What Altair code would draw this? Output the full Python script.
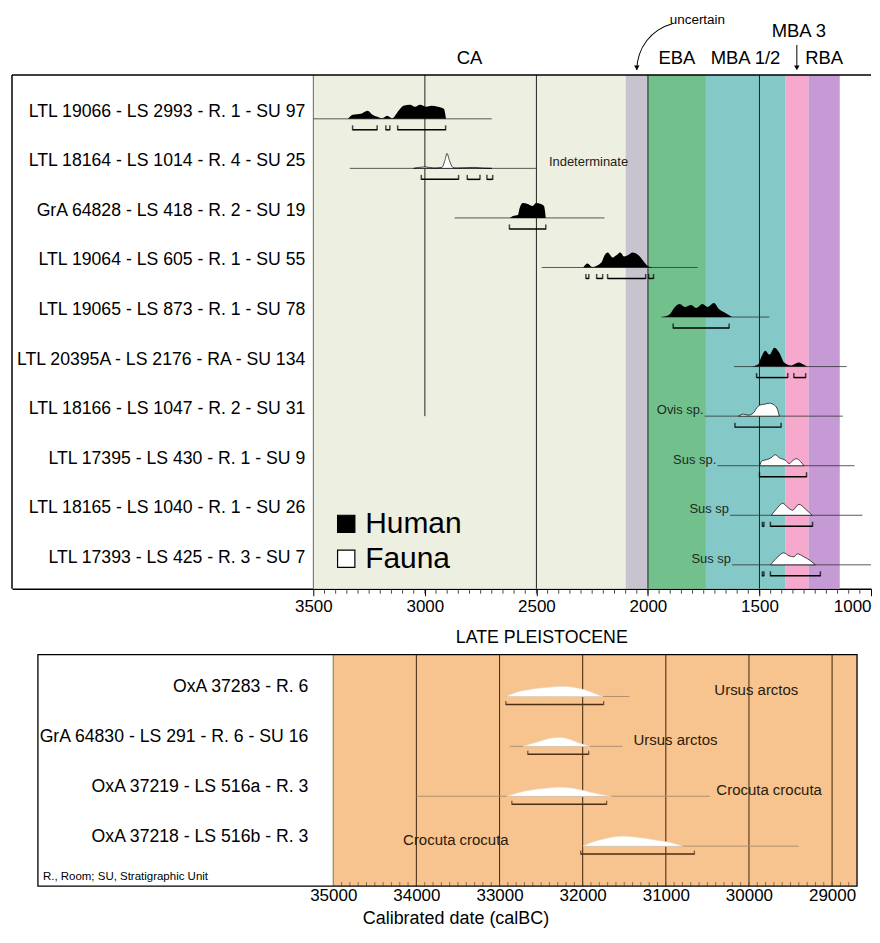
import altair as alt
import pandas as pd

FONT = "Liberation Sans"

# ======================= DATA: top panel (Holocene) =======================
top_labels = [
    "LTL 19066 - LS 2993 - R. 1 - SU 97",
    "LTL 18164 - LS 1014 - R. 4 - SU 25",
    "GrA 64828 - LS 418 - R. 2 - SU 19",
    "LTL 19064 - LS 605 - R. 1 - SU 55",
    "LTL 19065 - LS 873 - R. 1 - SU 78",
    "LTL 20395A - LS 2176 - RA - SU 134",
    "LTL 18166 - LS 1047 - R. 2 - SU 31",
    "LTL 17395 - LS 430 - R. 1 - SU 9",
    "LTL 18165 - LS 1040 - R. 1 - SU 26",
    "LTL 17393 - LS 425 - R. 3 - SU 7",
]
top_kind = ["Human", "Indeterminate", "Human", "Human", "Human", "Human",
            "Fauna", "Fauna", "Fauna", "Fauna"]
top_species = ["", "Indeterminate", "", "", "", "", "Ovis sp.", "Sus sp.", "Sus sp", "Sus sp"]
top_species_year = [None, 2444, None, None, None, None, 1746, 1689, 1632, 1623]

top_line_start = [3500, 3337, 2867, 2476, 1940, 1614, 1746, 1689, 1632, 1623]
top_line_end = [2700, 2502, 2195, 1777, 1456, 1109, 1126, 1074, 1038, 1000]

top_dens_year = [
    [3345, 3323, 3286, 3257, 3235, 3213, 3191, 3169, 3147, 3118, 3096, 3066, 3044, 3022, 2993, 2971, 2942, 2915, 2905],
    [3050, 3000, 2960, 2924, 2910, 2901, 2890, 2875, 2860, 2780, 2740, 2700],
    [2620, 2605, 2583, 2575, 2561, 2539, 2517, 2502, 2480, 2466, 2458],
    [2290, 2271, 2250, 2209, 2195, 2180, 2158, 2143, 2124, 2107, 2085, 2070, 2041, 2019, 1997, 1975],
    [1931, 1901, 1879, 1857, 1835, 1806, 1784, 1755, 1733, 1704, 1682, 1653, 1623],
    [1535, 1506, 1491, 1474, 1455, 1433, 1411, 1389, 1359, 1337, 1323, 1303, 1286],
    [1594, 1572, 1550, 1528, 1513, 1499, 1477, 1455, 1433, 1418, 1411],
    [1499, 1488, 1469, 1447, 1430, 1411, 1381, 1367, 1352, 1334, 1315, 1301],
    [1447, 1425, 1396, 1374, 1352, 1323, 1293, 1264],
    [1450, 1418, 1391, 1367, 1345, 1330, 1301, 1271, 1250],
]
top_dens_prob = [
    [0, 4, 5, 8, 4, 2, 0.5, 3, 0.5, 8, 13, 14, 12, 14, 12, 13, 12, 10, 0],
    [0, 1.5, 0.3, 1, 8, 15, 8, 1, 0.3, 1, 0.3, 0],
    [0, 2, 3, 10, 15, 14, 12, 15, 14, 12, 0],
    [0, 4, 0.5, 5, 12, 15, 10, 12, 15, 11, 13, 15, 12, 6, 1, 0],
    [0, 3, 10, 13, 10, 12, 9, 13, 10, 14, 8, 4, 0],
    [0, 2, 10, 16, 12, 19, 14, 4, 1, 3, 4, 2, 0],
    [0, 2, 1, 3, 8, 11, 12, 13, 11, 6, 0],
    [0, 5, 6, 8, 11, 8, 5, 2, 5, 7, 4, 0],
    [0, 6, 12, 8, 5, 11, 6, 0],
    [0, 8, 12, 9, 8, 11, 8, 4, 0],
]
top_range_from = [[3324, 3175, 3122], [3016, 2810, 2722], [2621], [2278, 2230, 2181, 1997],
                  [1887], [1513, 1346], [1610], [1500], [1487, 1451], [1487, 1451]]
top_range_to = [[3214, 3157, 2907], [2849, 2753, 2696], [2458], [2265, 2203, 2010, 1975],
                [1636], [1373, 1293], [1403], [1289], [1480, 1262], [1480, 1227]]

period_names = ["CA", "uncertain", "EBA", "MBA 1/2", "MBA 3", "RBA"]
period_start = [3500, 2100, 2000, 1740, 1385, 1280]
period_end = [2100, 2000, 1740, 1385, 1280, 1140]
period_colors = ["#EDEFE0", "#C9C3CF", "#72C18D", "#84C8C8", "#F6A8CD", "#C59AD5"]

top_grid_years = [3500, 3000, 2500, 2000, 1500]
top_grid_colors = ["#666666", "#222222", "#222222", "#222222", "#222222"]
top_grid_stop_row = [None, 6, None, None, None]   # 3000 line stops at the 7th row

top_ticks = [3500, 3000, 2500, 2000, 1500, 1000]
top_minor_ticks = list(range(3450, 1000, -50))

legend_labels = ["Human", "Fauna"]
legend_fill = ["black", "white"]

# ======================= DATA: bottom panel (Late Pleistocene) =======================
bot_labels = ["OxA 37283 - R. 6", "GrA 64830 - LS 291 - R. 6 - SU 16",
              "OxA 37219 - LS 516a - R. 3", "OxA 37218 - LS 516b - R. 3"]
bot_species = ["Ursus arctos", "Ursus arctos", "Crocuta crocuta", "Crocuta crocuta"]
bot_species_year = [30416, 31388, 30392, 34160]
bot_line_start = [32924, 32876, 34000, 32000]
bot_line_end = [31436, 31520, 30470, 29400]
bot_dens_year = [
    [32916, 32836, 32636, 32436, 32236, 32036, 31916, 31796, 31756],
    [32716, 32636, 32516, 32396, 32276, 32156, 32036, 31956, 31916],
    [32916, 32796, 32636, 32436, 32276, 32116, 31956, 31796, 31656],
    [31996, 31916, 31756, 31536, 31356, 31116, 30916, 30796],
]
bot_dens_prob = [
    [0, 3, 7, 9, 10, 8, 5, 1, 0],
    [0, 2, 5, 8, 9, 7, 3, 1, 0],
    [0, 3, 6, 8, 9, 8, 5, 2, 0],
    [0, 3, 7, 10, 9, 6, 3, 0],
]
bot_range_from = [32924, 32660, 32852, 32024]
bot_range_to = [31748, 31928, 31712, 30656]
bot_grid_years = [35000, 34000, 33000, 32000, 31000, 30000, 29000]
bot_grid_colors = ["#6f8a5a", "#4e3218", "#4e3218", "#4e3218", "#4e3218", "#4e3218", "#4e3218"]
bot_ticks = [35000, 34000, 33000, 32000, 31000, 30000, 29000]
bot_minor_ticks = list(range(34900, 28700, -100))
bot_period = ["LATE PLEISTOCENE"]
bot_period_start = [35000]
bot_period_end = [28700]

# ======================= LAYOUT / STYLE =======================
TOP_W, TOP_H = 861, 515
BOT_W, BOT_H = 847, 232
TOP_ROW, TOP_OFF = 49.67, 0.886
BOT_ROW, BOT_OFF = 50.0, 0.84
TOP_DOMAIN = [4851, 1000]
BOT_DOMAIN = [38864, 28700]
LABEL_FS = 17.7

xs_top = alt.Scale(domain=TOP_DOMAIN, nice=False, zero=False)
ys_top = alt.Scale(domain=[0, TOP_H / TOP_ROW], reverse=True, nice=False, zero=False)
xs_bot = alt.Scale(domain=BOT_DOMAIN, nice=False, zero=False)
ys_bot = alt.Scale(domain=[0, BOT_H / BOT_ROW], reverse=True, nice=False, zero=False)

ax_top = alt.Axis(values=top_ticks, format="d", labelFontSize=17, labelColor="black",
                  labelFont=FONT, tickSize=7, tickColor="black", tickWidth=1,
                  domain=True, domainColor="black", domainWidth=1.5, grid=False,
                  labelPadding=3, title=None,
                  labelAlign={"condition": {"test": "datum.value == 1000", "value": "right"},
                              "value": "center"})
ax_bot = alt.Axis(values=bot_ticks, format="d", labelFontSize=17, labelColor="black",
                  labelFont=FONT, ticks=False, tickSize=0, domain=False, grid=False,
                  labelPadding=1, title=None)


def XT(f):
    return alt.X(f, type="quantitative", scale=xs_top, axis=ax_top)


def YT(f):
    return alt.Y(f, type="quantitative", scale=ys_top, axis=None)


def XB(f):
    return alt.X(f, type="quantitative", scale=xs_bot, axis=ax_bot)


def YB(f):
    return alt.Y(f, type="quantitative", scale=ys_bot, axis=None)


# ----------------------- top tables -----------------------
periods = pd.DataFrame({"name": period_names, "start": period_start, "end": period_end,
                        "color": period_colors})
periods["mid"] = (periods["start"] + periods["end"]) / 2

rows_t = pd.DataFrame({"row": range(len(top_labels)), "label": top_labels, "kind": top_kind,
                       "start": top_line_start, "end": top_line_end,
                       "species": top_species, "sp_year": top_species_year})
rows_t["base"] = TOP_OFF + rows_t["row"]
rows_t["lab_y"] = rows_t["base"] - 7 / TOP_ROW
rows_t["sp_y"] = rows_t["base"] - 6 / TOP_ROW

dens_t = pd.DataFrame([
    {"row": r, "kind": top_kind[r], "year": y,
     "base": TOP_OFF + r, "top": TOP_OFF + r - p / TOP_ROW}
    for r in range(len(top_labels)) for y, p in zip(top_dens_year[r], top_dens_prob[r])
])
brk_t = pd.DataFrame([
    {"row": r, "a": a, "b": b, "y": TOP_OFF + r + 11 / TOP_ROW}
    for r in range(len(top_labels)) for a, b in zip(top_range_from[r], top_range_to[r])
])
caps_t = pd.concat([brk_t[["a", "y"]].rename(columns={"a": "x"}),
                    brk_t[["b", "y"]].rename(columns={"b": "x"})])

grid_t = pd.DataFrame({"year": top_grid_years, "col": top_grid_colors,
                       "y0": 0.0,
                       "y1": [TOP_H / TOP_ROW if s is None else TOP_OFF + s for s in top_grid_stop_row]})
minor_t = pd.DataFrame({"year": top_minor_ticks})
legend_t = pd.DataFrame({"label": legend_labels, "fill": legend_fill,
                         "ly": [450 / TOP_ROW, 485 / TOP_ROW]})

bg = alt.Chart(periods).mark_rect().encode(
    x=XT("start:Q"), x2="end:Q", y=alt.value(0), y2=alt.value(TOP_H),
    fill=alt.Fill("color:N", scale=None))
grid = alt.Chart(grid_t).mark_rule(strokeWidth=1).encode(
    x=XT("year:Q"), y=YT("y0:Q"), y2="y1:Q", color=alt.Color("col:N", scale=None))
baselines = alt.Chart(rows_t).mark_rule(color="#333333", strokeWidth=0.8).encode(
    x=XT("start:Q"), x2="end:Q", y=YT("base:Q"))
human = alt.Chart(dens_t).transform_filter("datum.kind == 'Human'").mark_area(
    color="black", interpolate="monotone").encode(
    x=XT("year:Q"), y=YT("base:Q"), y2="top:Q", detail="row:N")
fauna = alt.Chart(dens_t).transform_filter("datum.kind != 'Human'").mark_area(
    fill="white", stroke="black", strokeWidth=0.7, interpolate="monotone").encode(
    x=XT("year:Q"), y=YT("base:Q"), y2="top:Q", detail="row:N")
brk = alt.Chart(brk_t).mark_rule(color="black", strokeWidth=1.5).encode(
    x=XT("a:Q"), x2="b:Q", y=YT("y:Q"))
caps = alt.Chart(caps_t).mark_tick(orient="vertical", size=5, thickness=1.5,
                                   color="black", yOffset=-2).encode(
    x=XT("x:Q"), y=YT("y:Q"))
row_text = alt.Chart(rows_t).mark_text(align="right", baseline="middle", fontSize=LABEL_FS,
                                       color="black").encode(
    x=alt.value(294), y=YT("lab_y:Q"), text="label:N")
sp_fauna = alt.Chart(rows_t).transform_filter("datum.kind == 'Fauna'").mark_text(
    align="right", baseline="middle", fontSize=13, color="#1d2a1d", dx=-1).encode(
    x=XT("sp_year:Q"), y=YT("sp_y:Q"), text="species:N")
sp_ind = alt.Chart(rows_t).transform_filter("datum.kind == 'Indeterminate'").mark_text(
    align="left", baseline="middle", fontSize=13, color="#222222").encode(
    x=XT("sp_year:Q"), y=YT("sp_y:Q"), text="species:N")
minor = alt.Chart(minor_t).mark_tick(orient="vertical", size=4, thickness=1,
                                     color="black").encode(
    x=XT("year:Q"), y=alt.value(TOP_H + 3))
leg_sq = alt.Chart(legend_t).mark_square(size=300, stroke="black", strokeWidth=1.2,
                                         opacity=1).encode(
    x=alt.value(335), y=YT("ly:Q"), fill=alt.Fill("fill:N", scale=None))
leg_tx = alt.Chart(legend_t).mark_text(align="left", baseline="middle", fontSize=30,
                                       color="black").encode(
    x=alt.value(354), y=YT("ly:Q"), text="label:N")
hdr = alt.Chart(periods).transform_filter(
    "indexof(['CA','EBA','MBA 1/2','RBA'], datum.name) >= 0").mark_text(
    align="center", baseline="middle", fontSize=18.5, color="black").encode(
    x=XT("mid:Q"), y=alt.value(-17), text="name:N")
hdr_mba3 = alt.Chart(periods).transform_filter("datum.name == 'MBA 3'").mark_text(
    align="center", baseline="middle", fontSize=18.5, color="black", dx=2).encode(
    x=XT("mid:Q"), y=alt.value(-44), text="name:N")
mba3_arrow = alt.Chart(periods).transform_filter("datum.name == 'MBA 3'").mark_rule(
    color="black", strokeWidth=1).encode(
    x=XT("mid:Q"), y=alt.value(-30), y2=alt.value(-9))
mba3_head = alt.Chart(periods).transform_filter("datum.name == 'MBA 3'").mark_point(
    shape="triangle-down", size=30, filled=True, color="black", opacity=1).encode(
    x=XT("mid:Q"), y=alt.value(-7))
unc_text = alt.Chart(periods).transform_filter("datum.name == 'uncertain'").mark_text(
    align="left", baseline="middle", fontSize=13.5, color="black", dx=33).encode(
    x=XT("mid:Q"), y=alt.value(-55), text="name:N")
unc_arc = alt.Chart(periods).transform_filter("datum.name == 'uncertain'").mark_arc(
    theta=4.712, theta2=6.02, radius=48.5, innerRadius=47.5, color="black",
    xOffset=48).encode(x=XT("mid:Q"), y=alt.value(-5))
unc_head = alt.Chart(periods).transform_filter("datum.name == 'uncertain'").mark_point(
    shape="triangle-down", size=30, filled=True, color="black", opacity=1).encode(
    x=XT("mid:Q"), y=alt.value(-7))
border_top = alt.Chart(periods).transform_filter("datum.name == 'CA'").mark_rule(
    color="black", strokeWidth=1.5).encode(
    x=alt.value(0), x2=alt.value(TOP_W), y=alt.value(0))
border_left = alt.Chart(periods).transform_filter("datum.name == 'CA'").mark_rule(
    color="black", strokeWidth=1.5).encode(
    x=alt.value(0), y=alt.value(0), y2=alt.value(TOP_H))

top = alt.layer(
    bg, grid, baselines, human, fauna, brk, caps, row_text, sp_fauna, sp_ind, minor,
    leg_sq, leg_tx, hdr, hdr_mba3, mba3_arrow, mba3_head, unc_text, unc_arc, unc_head,
    border_top, border_left
).properties(width=TOP_W, height=TOP_H)

# ----------------------- bottom tables -----------------------
rows_b = pd.DataFrame({"row": range(len(bot_labels)), "label": bot_labels,
                       "species": bot_species, "sp_year": bot_species_year,
                       "start": bot_line_start, "end": bot_line_end,
                       "ra": bot_range_from, "rb": bot_range_to})
rows_b["base"] = BOT_OFF + rows_b["row"]
rows_b["lab_y"] = rows_b["base"] - 9 / BOT_ROW
rows_b["sp_y"] = rows_b["base"] - 6 / BOT_ROW
rows_b["brk_y"] = rows_b["base"] + 8 / BOT_ROW
caps_b = pd.concat([rows_b[["ra", "brk_y"]].rename(columns={"ra": "x"}),
                    rows_b[["rb", "brk_y"]].rename(columns={"rb": "x"})])
dens_b = pd.DataFrame([
    {"row": r, "year": y, "base": BOT_OFF + r, "top": BOT_OFF + r - p / BOT_ROW}
    for r in range(len(bot_labels)) for y, p in zip(bot_dens_year[r], bot_dens_prob[r])
])
grid_b = pd.DataFrame({"year": bot_grid_years, "col": bot_grid_colors})
minor_b = pd.DataFrame({"year": bot_minor_ticks})
per_b = pd.DataFrame({"name": bot_period, "start": bot_period_start, "end": bot_period_end})

bbg = alt.Chart(per_b).mark_rect(color="#F7C48F").encode(
    x=XB("start:Q"), x2="end:Q", y=alt.value(0), y2=alt.value(BOT_H))
bgrid = alt.Chart(grid_b).mark_rule(strokeWidth=1.1).encode(
    x=XB("year:Q"), y=alt.value(0), y2=alt.value(BOT_H), color=alt.Color("col:N", scale=None))
bminor = alt.Chart(minor_b).mark_tick(orient="vertical", size=4, thickness=1,
                                      color="#6b4a2a").encode(
    x=XB("year:Q"), y=alt.value(BOT_H - 2))
bbase = alt.Chart(rows_b).mark_rule(color="#b09070", strokeWidth=1).encode(
    x=XB("start:Q"), x2="end:Q", y=YB("base:Q"))
bdens = alt.Chart(dens_b).mark_area(fill="white", stroke="#e8dccc", strokeWidth=0.6,
                                    interpolate="monotone").encode(
    x=XB("year:Q"), y=YB("base:Q"), y2="top:Q", detail="row:N")
bbrk = alt.Chart(rows_b).mark_rule(color="#4a2e12", strokeWidth=1.5).encode(
    x=XB("ra:Q"), x2="rb:Q", y=YB("brk_y:Q"))
bcaps = alt.Chart(caps_b).mark_tick(orient="vertical", size=4, thickness=1.3,
                                    color="#4a2e12", yOffset=-1.5).encode(
    x=XB("x:Q"), y=YB("brk_y:Q"))
brow = alt.Chart(rows_b).mark_text(align="right", baseline="middle", fontSize=LABEL_FS,
                                   color="black").encode(
    x=alt.value(297), y=YB("lab_y:Q"), text="label:N")
bsp = alt.Chart(rows_b).mark_text(align="left", baseline="middle", fontSize=15,
                                  color="#2a1a0a").encode(
    x=XB("sp_year:Q"), y=YB("sp_y:Q"), text="species:N")
bper = alt.Chart(per_b).mark_text(align="center", baseline="middle", fontSize=17.8,
                                  color="black").encode(
    x=alt.value(531), y=alt.value(-17), text="name:N")
bnote = alt.Chart(per_b).mark_text(align="left", baseline="middle", fontSize=11.5,
                                   color="black").encode(
    x=alt.value(31), y=alt.value(BOT_H - 9), text=alt.value("R., Room; SU, Stratigraphic Unit"))
btitle = alt.Chart(per_b).mark_text(align="center", baseline="middle", fontSize=18,
                                    color="black").encode(
    x=alt.value(445), y=alt.value(BOT_H + 33), text=alt.value("Calibrated date (calBC)"))
bbox = alt.Chart(per_b).mark_rect(fill=None, fillOpacity=0, stroke="black",
                                  strokeWidth=1.3).encode(
    x=alt.value(26), x2=alt.value(BOT_W), y=alt.value(0), y2=alt.value(BOT_H))

bottom = alt.layer(
    bbg, bgrid, bminor, bbase, bdens, bbrk, bcaps, brow, bsp, bper, bnote, btitle, bbox
).properties(width=BOT_W, height=BOT_H)

chart = alt.vconcat(top, bottom, spacing=14).properties(
    padding={"left": 3, "top": 4, "right": 0, "bottom": 0}
).configure(font=FONT).configure_view(stroke=None)

chart.save("out.html", embed_options={"renderer": "svg", "actions": False})
